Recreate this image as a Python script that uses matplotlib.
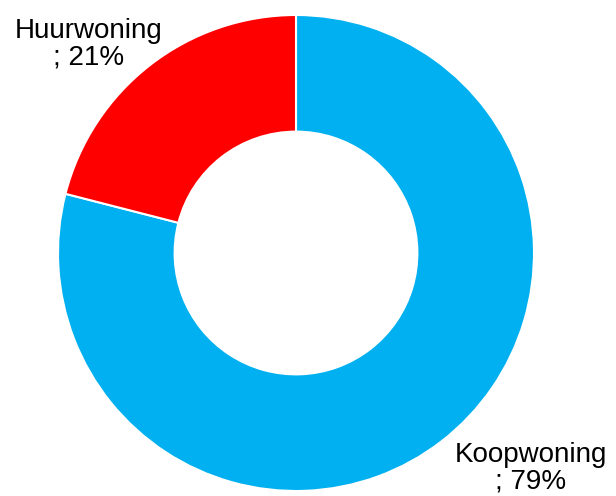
import matplotlib
matplotlib.use("Agg")
import matplotlib.pyplot as plt

plt.rcParams['font.family'] = ['Liberation Sans', 'DejaVu Sans']

labels = ["Koopwoning", "Huurwoning"]
shares = [79, 21]
colors = ["#00B0F0", "#FF0000"]

fig = plt.figure(figsize=(6.16, 4.96), dpi=100)
fig.patch.set_facecolor("white")

# donut centre ~ (296, 253) px, outer radius ~238 px
W, H = 616, 496
cx, cy, r = 296, 253, 238
ax = fig.add_axes([(cx - r) / W, (H - cy - r) / H, 2 * r / W, 2 * r / H])

wedges, _ = ax.pie(shares, colors=colors, startangle=90, counterclock=False,
                   radius=1, wedgeprops=dict(width=0.49, edgecolor="white", linewidth=1.5))
ax.set_xlim(-1, 1)
ax.set_ylim(-1, 1)
ax.set_aspect("equal")
ax.axis("off")

# data labels
fig.text(89 / W, 1 - 65 / H, f"{labels[1]}\n; {shares[1]}%", ha="center", va="baseline",
         fontsize=20, linespacing=1.05, color="#000000")
fig.text(531 / W, 1 - 489 / H, f"{labels[0]}\n; {shares[0]}%", ha="center", va="baseline",
         fontsize=20, linespacing=1.05, color="#000000")

fig.savefig("out.png", dpi=100, facecolor="white")
